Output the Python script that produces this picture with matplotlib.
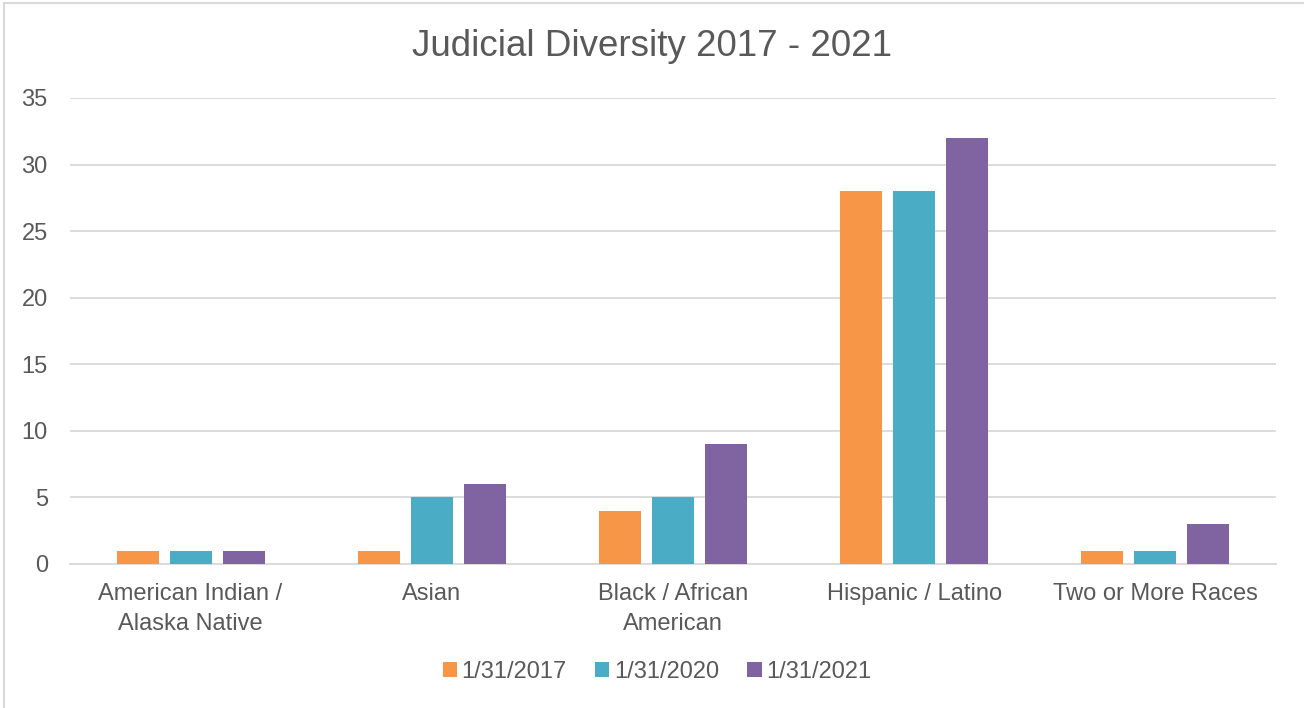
import numpy as np
import matplotlib.pyplot as plt
from matplotlib.patches import Rectangle

categories = ["American Indian /\nAlaska Native", "Asian", "Black / African\nAmerican",
              "Hispanic / Latino", "Two or More Races"]
series_names = ["1/31/2017", "1/31/2020", "1/31/2021"]
vals_2017 = [1, 1, 4, 28, 1]
vals_2020 = [1, 5, 5, 28, 1]
vals_2021 = [1, 6, 9, 32, 3]
colors = ["#F79646", "#4BACC6", "#8064A2"]

plt.rcParams['font.family'] = ['Liberation Sans', 'DejaVu Sans']
txt = "#595959"

fig = plt.figure(figsize=(13.04, 7.08), dpi=100)
ax = fig.add_axes([70/1304, 1-564/708, 1206/1304, 466/708])

# light frame round the chart (right/bottom edges fall outside the picture)
fig.patches.append(Rectangle((4/1304, -0.1), 1.2, 1-3/708+0.1, transform=fig.transFigure,
                             fill=False, edgecolor="#D9D9D9", linewidth=1.5, zorder=0))

x = np.arange(len(categories))
w = 0.174
step = 0.22
for i, (vals, name) in enumerate(zip([vals_2017, vals_2020, vals_2021], series_names)):
    ax.bar(x + (i-1)*step, vals, width=w, color=colors[i], label=name, zorder=3)

ax.set_xlim(-0.5, 4.5)
ax.set_ylim(0, 35)
ax.set_yticks(np.arange(0, 36, 5))
ax.set_xticks(x)
ax.set_xticklabels(categories, linespacing=1.45)
ax.grid(axis='y', color="#D9D9D9", linewidth=1.3, zorder=0)
for s in ['top', 'right', 'left']:
    ax.spines[s].set_visible(False)
ax.spines['bottom'].set_color("#D9D9D9")
ax.spines['bottom'].set_linewidth(1.3)
ax.tick_params(axis='both', length=0, labelsize=17, labelcolor=txt)
ax.tick_params(axis='y', pad=16)
ax.tick_params(axis='x', pad=14)

fig.text(0.5, 1-47/708, "Judicial Diversity 2017 - 2021", ha='center', va='center',
         fontsize=26.5, color=txt)

leg = fig.legend(loc='center', bbox_to_anchor=(657/1304, 1-672/708), ncol=3, frameon=False,
                 fontsize=17, handlelength=0.6, handleheight=0.6, handletextpad=0.2,
                 columnspacing=1.2)
for t in leg.get_texts():
    t.set_color(txt)

fig.savefig("out.png", dpi=100)
